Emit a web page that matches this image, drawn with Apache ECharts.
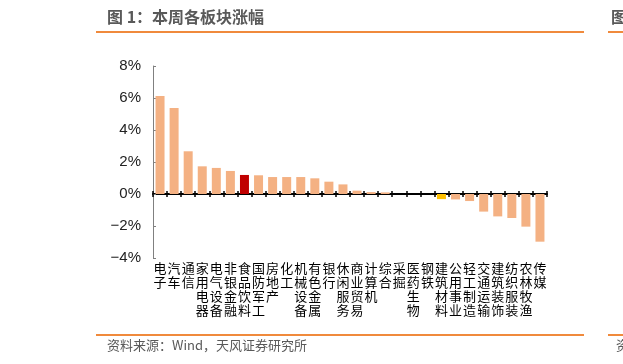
<!DOCTYPE html>
<html><head><meta charset="utf-8">
<script src="https://cdn.jsdelivr.net/npm/echarts@6/dist/echarts.min.js"></script>
<style>html,body{margin:0;padding:0;background:#fff}#c{width:623px;height:364px}</style>
</head><body><div id="c"></div>
<script>
const categories = ['电子','汽车','通信','家用电器','电气设备','非银金融','食品饮料','国防军工','房地产','化工','机械设备','有色金属','银行','休闲服务','商业贸易','计算机','综合','采掘','医药生物','钢铁','建筑材料','公用事业','轻工制造','交通运输','建筑装饰','纺织服装','农林牧渔','传媒'];
const values = [6.12,5.38,2.67,1.73,1.63,1.44,1.19,1.17,1.06,1.06,1.06,0.98,0.77,0.60,0.21,0.12,0.10,0,0,0,-0.32,-0.34,-0.44,-1.10,-1.40,-1.50,-2.04,-2.98];
const yTicks = ['-4%','-2%','0%','2%','4%','6%','8%'];
const highlight = {'食品饮料':'#C00000','建筑材料':'#FFC000'};
const baseColor = '#F4B183';

const chart = echarts.init(document.getElementById('c'), null, {renderer:'canvas'});
chart.setOption({
  animation:false,
  grid:{left:153,right:76,top:66,bottom:106},
  xAxis:[
    {type:'category', data:categories, position:'bottom',
     axisLine:{show:false, onZero:false}, axisTick:{show:false},
     axisLabel:{interval:0, margin:3, fontSize:13, lineHeight:14, color:'#000',
       fontFamily:'Noto Sans CJK SC', verticalAlign:'top',
       formatter:v=>v.split('').join('\n')}},
    {type:'category', data:categories, position:'bottom',
     axisLine:{show:true, onZero:true, onZeroAxisIndex:0, lineStyle:{color:'#000', width:2}},
     axisTick:{show:true, interval:0, length:3, lineStyle:{color:'#000', width:1.5}},
     axisLabel:{show:false}},
    {type:'category', data:categories, position:'top',
     axisLine:{show:false, onZero:true, onZeroAxisIndex:1},
     axisTick:{show:true, interval:0, length:3, lineStyle:{color:'#000', width:1.5}},
     axisLabel:{show:false}}
  ],
  yAxis:[
    {type:'value', min:-4, max:8, interval:2,
    axisLine:{show:true, onZero:false, lineStyle:{color:'#808080', width:1}},
    axisTick:{show:true, inside:true, length:3, lineStyle:{color:'#808080'}},
    splitLine:{show:false},
    axisLabel:{margin:12, fontSize:15, color:'#222', fontFamily:'Liberation Sans',
      formatter:v=>yTicks[Math.round((v+4)/2)].replace('-','−')}},
    {type:'value', min:-4, max:8, interval:2, position:'right', show:false,
     axisLine:{onZero:false}, splitLine:{show:false}}
  ],
  series:[{type:'bar', xAxisIndex:0, yAxisIndex:0, barWidth:9,
    data:values.map((v,i)=>({value:v, itemStyle:{color:highlight[categories[i]]||baseColor}}))}],
  graphic:[
    {type:'text', left:107, top:9, style:{text:'图 1：本周各板块涨幅', font:'bold 16px "Noto Sans CJK SC"', fill:'#595959'}},
    {type:'rect', shape:{x:96, y:31, width:488, height:2}, style:{fill:'#F08A3C'}},
    {type:'rect', shape:{x:608, y:31, width:20, height:2}, style:{fill:'#F08A3C'}},
    {type:'text', left:611, top:9, style:{text:'图', font:'bold 16px "Noto Sans CJK SC"', fill:'#595959'}},
    {type:'rect', shape:{x:96, y:334, width:488, height:2}, style:{fill:'#F08A3C'}},
    {type:'rect', shape:{x:608, y:334, width:20, height:2}, style:{fill:'#F08A3C'}},
    {type:'text', left:107, top:339, style:{text:'资料来源：Wind，天风证券研究所', font:'13px "Noto Sans CJK SC"', fill:'#595959'}},
    {type:'text', left:616, top:339, style:{text:'资', font:'13px "Noto Sans CJK SC"', fill:'#595959'}}
  ]
});
</script></body></html>
